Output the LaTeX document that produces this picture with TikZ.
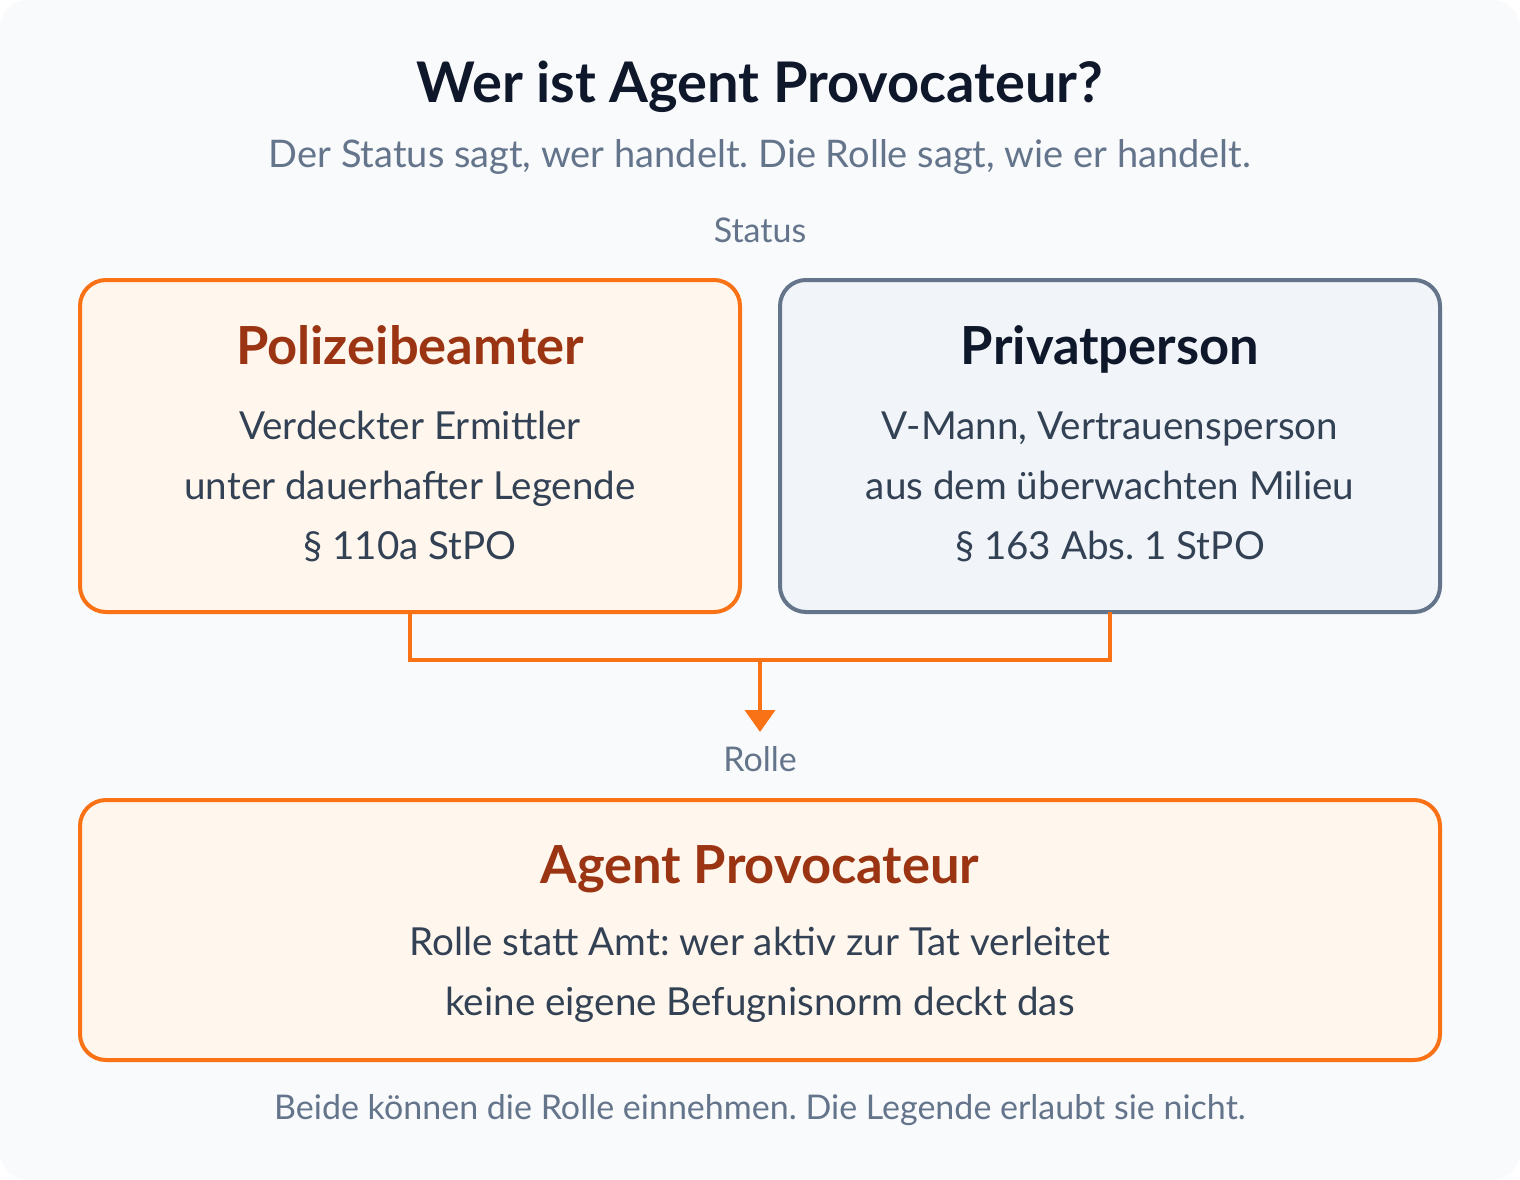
\documentclass[tikz,border=0pt]{standalone}
\usepackage{fontspec}
\setmainfont{Lato}
\frenchspacing
\usetikzlibrary{arrows.meta}
\definecolor{bgc}{HTML}{F8FAFC}
\definecolor{orng}{HTML}{F97316}
\definecolor{orfill}{HTML}{FFF7ED}
\definecolor{slate}{HTML}{64748B}
\definecolor{slfill}{HTML}{F1F5F9}
\definecolor{dark}{HTML}{0F172A}
\definecolor{brown}{HTML}{9A3412}
\definecolor{body}{HTML}{334155}
\begin{document}
\begin{tikzpicture}[x=1pt,y=-1pt,
  txt/.style={anchor=base,inner sep=0pt},
  boxo/.style={draw=orng,fill=orfill,line width=4pt,rounded corners=26pt},
  boxs/.style={draw=slate,fill=slfill,line width=4pt,rounded corners=26pt},
  ttl/.style={txt,font=\fontsize{52.5}{62}\selectfont\bfseries},
  bod/.style={txt,font=\fontsize{38.6}{46}\selectfont,text=body},
  gry/.style={txt,text=slate},
  conn/.style={draw=orng,line width=4pt}]
\useasboundingbox (0,0) rectangle (1520,1180);
\fill[white] (0,0) rectangle (1520,1180);
\fill[bgc,rounded corners=28pt] (0,0) rectangle (1520,1180);
\node[txt,font=\fontsize{56}{66}\selectfont\bfseries,text=dark] (title) at (760,103) {Wer ist Agent Provocateur?};
\node[gry,font=\fontsize{38}{46}\selectfont] (sub) at (760,167) {Der Status sagt, wer handelt. Die Rolle sagt, wie er handelt.};
\node[gry,font=\fontsize{34}{40}\selectfont] (status) at (760,242) {Status};
\path[boxo] (80,280) rectangle (740,612);
\path[boxs] (780,280) rectangle (1440,612);
\coordinate (b1) at (410,612);
\coordinate (b2) at (1110,612);
\node[ttl,text=brown] (t1) at (410,364) {Polizeibeamter};
\node[bod] (l11) at (410,439) {Verdeckter Ermittler};
\node[bod] (l12) at (410,499) {unter dauerhafter Legende};
\node[bod] (l13) at (410,559) {§ 110a StPO};
\node[ttl,text=dark] (t2) at (1110,364) {Privatperson};
\node[bod] (l21) at (1110,439) {V-Mann, Vertrauensperson};
\node[bod] (l22) at (1110,499) {aus dem überwachten Milieu};
\node[bod] (l23) at (1110,559) {§ 163 Abs. 1 StPO};
\coordinate (j) at (760,660);
\coordinate (tip) at (760,732);
\draw[conn] (b1) -- (410,660) -- (1110,660) -- (b2);
\draw[conn,-{Triangle[width=30pt,length=22pt]}] (j) -- (tip);
\node[gry,font=\fontsize{34}{40}\selectfont] (rolle) at (760,771) {Rolle};
\path[boxo] (80,800) rectangle (1440,1060);
\node[ttl,text=brown] (t3) at (760,883) {Agent Provocateur};
\node[bod] (l31) at (760,955) {Rolle statt Amt: wer aktiv zur Tat verleitet};
\node[bod] (l32) at (760,1015) {keine eigene Befugnisnorm deckt das};
\node[gry,font=\fontsize{34}{40}\selectfont] (foot) at (760,1119) {Beide können die Rolle einnehmen. Die Legende erlaubt sie nicht.};
\end{tikzpicture}
\end{document}
